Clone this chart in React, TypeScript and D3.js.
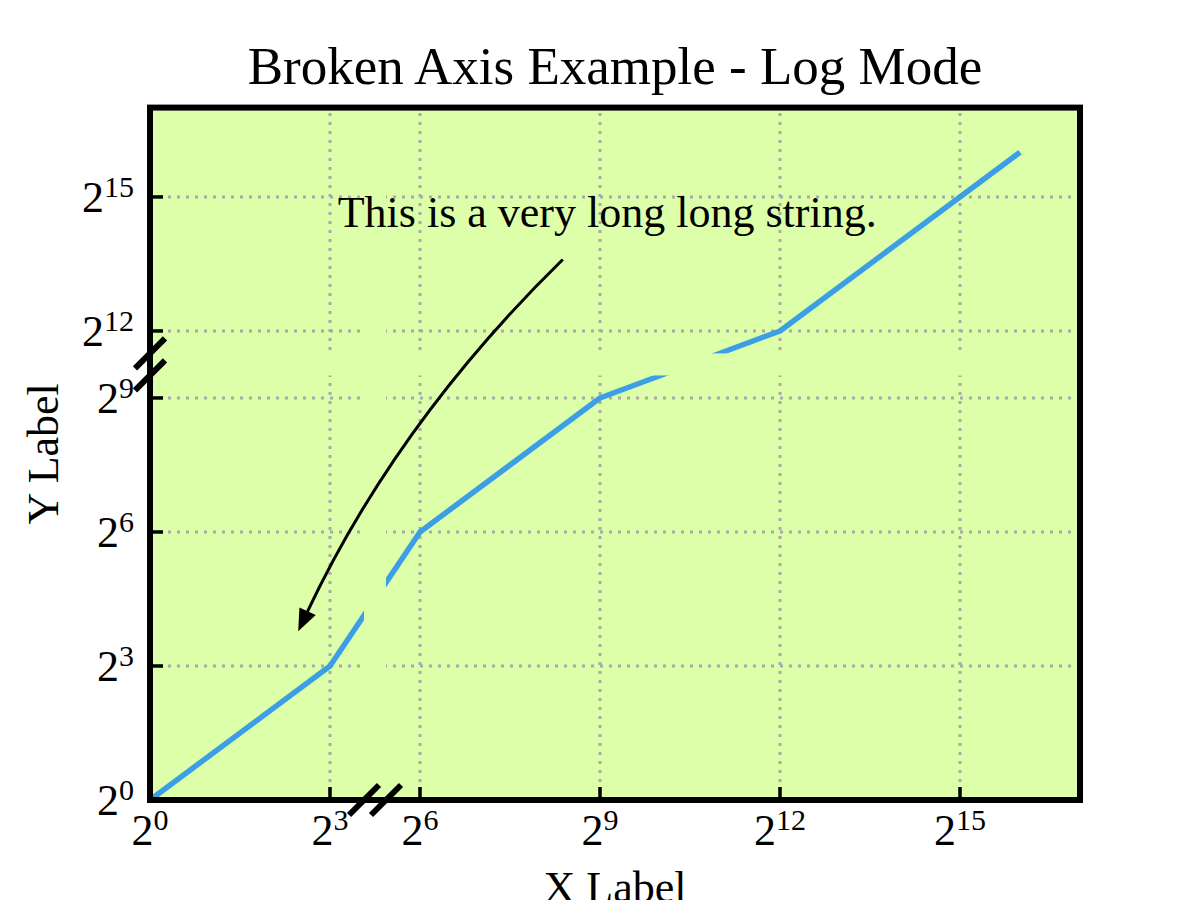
import React from 'react';
import * as d3 from 'd3';

// data (log2 axes, broken in both directions)
const xValues = [1, 8, 64, 512, 4096, 65536];
const yValues = [1, 8, 64, 512, 4096, 65536];
const tickExps = [0, 3, 6, 9, 12, 15];
const xBreak = [Math.pow(2, 3.75), Math.pow(2, 5.25)];
const yBreak = [Math.pow(2, 9.75), Math.pow(2, 11.25)];
const axisMax = Math.pow(2, 17);
const annotText = 'This is a very long long string.';
const annotPoint = [Math.pow(2, 2.47), Math.pow(2, 3.78)];
const annotFrom = [Math.pow(2, 8.38), Math.pow(2, 13.6)];
const annotTextPos = [Math.pow(2, 9.12), Math.pow(2, 14.32)];

const bg = '#ddffaa';
const lineColor = '#3c9fe6';
const font = '"Liberation Serif", "Times New Roman", serif';

const W = 1200, H = 900;
const left = 150, right = 1080, top = 107.6, bottom = 800;
const gapHalf = 11;

const App = () => {
  const lx = Math.log2;
  // broken scales: removed log2 interval collapses to one pixel position
  const xKeep = lx(axisMax) - lx(xBreak[1]) + lx(xBreak[0]);
  const yKeep = lx(axisMax) - lx(yBreak[1]) + lx(yBreak[0]);
  const xCut = left + (right - left) * lx(xBreak[0]) / xKeep;
  const yCut = bottom - (bottom - top) * lx(yBreak[0]) / yKeep;
  const xs = d3.scaleLinear()
    .domain([0, lx(xBreak[0]), lx(xBreak[1]), lx(axisMax)])
    .range([left, xCut, xCut, right]);
  const ys = d3.scaleLinear()
    .domain([0, lx(yBreak[0]), lx(yBreak[1]), lx(axisMax)])
    .range([bottom, yCut, yCut, top]);
  const x = (v: number) => xs(lx(v));
  const y = (v: number) => ys(lx(v));

  const pts = xValues.map((v, i) => [v, yValues[i]]);
  const line = d3.line<number[]>().x(d => x(d[0])).y(d => y(d[1]));

  const xGap = x(xBreak[0]);
  const yGap = y(yBreak[0]);

  // curved annotation arrow (arc3-like), bowing to the upper left
  const p0 = [x(annotFrom[0]), y(annotFrom[1])];
  const p1 = [x(annotPoint[0]), y(annotPoint[1])];
  const dx = p1[0] - p0[0], dy = p1[1] - p0[1];
  const rad = 0.09;
  const c = [(p0[0] + p1[0]) / 2 - rad * dy, (p0[1] + p1[1]) / 2 + rad * dx];
  const hx = p1[0] - c[0], hy = p1[1] - c[1];
  const hl = Math.hypot(hx, hy);
  const ux = hx / hl, uy = hy / hl;
  const headLen = 22, headW = 9;
  const base = [p1[0] - ux * headLen, p1[1] - uy * headLen];
  const head = [
    [p1[0], p1[1]],
    [base[0] - uy * headW, base[1] + ux * headW],
    [base[0] + uy * headW, base[1] - ux * headW],
  ];
  const arrowPath = `M${p0[0]},${p0[1]} Q${c[0]},${c[1]} ${base[0] + ux * 2},${base[1] + uy * 2}`;

  const tickLabel = (e: number) => (
    <>
      2<tspan fontSize={30} dy={-15}>{e}</tspan>
    </>
  );

  const mark = (cx: number, cy: number, key: string) => (
    <line key={key} x1={cx - 15} y1={cy + 15} x2={cx + 15} y2={cy - 15}
      stroke="#000" strokeWidth={6} />
  );

  return (
    <svg width={W} height={H} style={{ position: 'absolute', left: 0, top: 0, background: '#fff' }}
      fontFamily={font}>
      <text x={(left + right) / 2} y={84} fontSize={53} textAnchor="middle">
        Broken Axis Example - Log Mode
      </text>
      <rect x={left} y={top} width={right - left} height={bottom - top} fill={bg} />

      {/* grid */}
      <g stroke="#aaaaaa" strokeWidth={3} strokeDasharray="3 6">
        {tickExps.map(e => (
          <line key={'gx' + e} x1={x(2 ** e)} x2={x(2 ** e)} y1={bottom} y2={top} />
        ))}
        {tickExps.map(e => (
          <line key={'gy' + e} x1={left} x2={right} y1={y(2 ** e)} y2={y(2 ** e)} />
        ))}
      </g>

      <path d={line(pts) || ''} fill="none" stroke={lineColor} strokeWidth={5.5} strokeLinejoin="round" />

      {/* break gaps */}
      <rect x={xGap - gapHalf} y={top} width={gapHalf * 2} height={bottom - top} fill={bg} />
      <rect x={left} y={yGap - gapHalf} width={right - left} height={gapHalf * 2} fill={bg} />

      {/* ticks */}
      <g stroke="#000" strokeWidth={3.5}>
        {tickExps.map(e => (
          <line key={'tx' + e} x1={x(2 ** e)} x2={x(2 ** e)} y1={bottom} y2={bottom - 13} />
        ))}
        {tickExps.map(e => (
          <line key={'ty' + e} x1={left} x2={left + 13} y1={y(2 ** e)} y2={y(2 ** e)} />
        ))}
      </g>

      <rect x={left} y={top} width={right - left} height={bottom - top} fill="none"
        stroke="#000" strokeWidth={6} />

      {/* break marks */}
      {mark(xGap - gapHalf, bottom, 'bx1')}
      {mark(xGap + gapHalf, bottom, 'bx2')}
      {mark(left, yGap - gapHalf, 'by1')}
      {mark(left, yGap + gapHalf, 'by2')}

      {/* tick labels */}
      <g fontSize={44}>
        {tickExps.map(e => (
          <text key={'lx' + e} x={x(2 ** e)} y={845} textAnchor="middle">{tickLabel(e)}</text>
        ))}
        {tickExps.map(e => (
          <text key={'ly' + e} x={134} y={y(2 ** e) + 15} textAnchor="end">{tickLabel(e)}</text>
        ))}
      </g>

      {/* annotation */}
      <text x={x(annotTextPos[0])} y={y(annotTextPos[1])} fontSize={44} textAnchor="middle">{annotText}</text>
      <path d={arrowPath} fill="none" stroke="#000" strokeWidth={3} />
      <polygon points={head.map(p => p.join(',')).join(' ')} fill="#000" />

      <text x={(left + right) / 2} y={902} fontSize={44} textAnchor="middle">X Label</text>
      <text transform={`translate(58,${(top + bottom) / 2}) rotate(-90)`} fontSize={44} textAnchor="middle">Y Label</text>
    </svg>
  );
};

export default App;
